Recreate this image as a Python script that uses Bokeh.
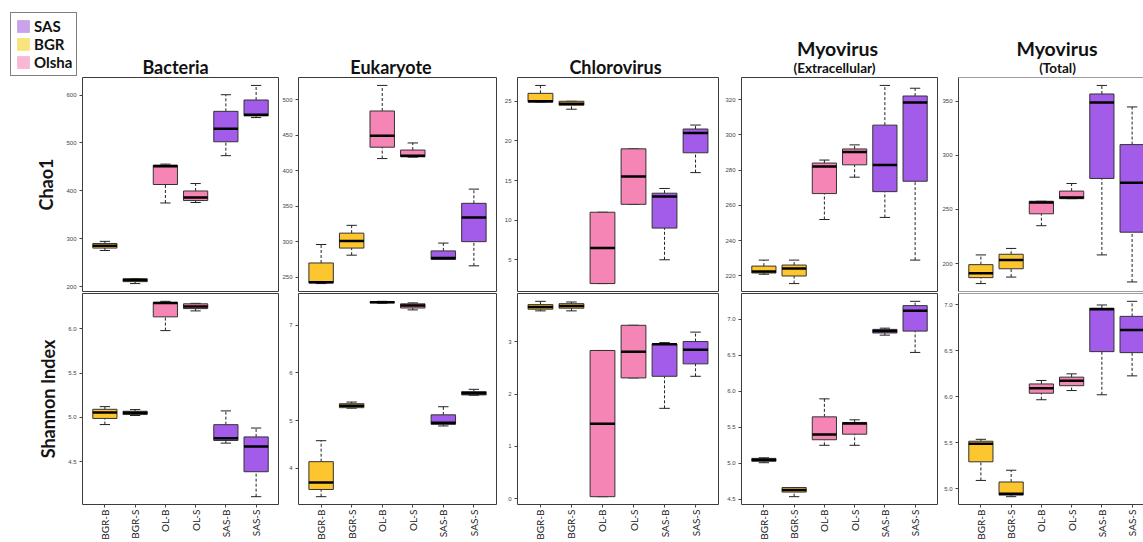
import math
from bokeh.plotting import figure
from bokeh.models import (ColumnDataSource, Range1d, FixedTicker, PrintfTickFormatter,
                          Legend, LegendItem, Span)
from bokeh.layouts import row, column
from bokeh.transform import dodge
from bokeh.embed import file_html
from bokeh.resources import INLINE
from bokeh.core.properties import value

# ---------------- data ----------------
categories = ["BGR-B", "BGR-S", "OL-B", "OL-S", "SAS-B", "SAS-S"]
groups = ["BGR", "BGR", "Olsha", "Olsha", "SAS", "SAS"]
group_colors = {"BGR": "#FDC62E", "Olsha": "#F585B5", "SAS": "#A35BE9"}
legend_groups = ["SAS", "BGR", "Olsha"]
legend_colors = ["#C9A3EA", "#FAE27C", "#F9B7D5"]

panel_titles = ["Bacteria", "Eukaryote", "Chlorovirus", "Myovirus", "Myovirus"]
panel_subtitles = ["(Extracellular)", "(Total)"]
row_labels = ["Chao1", "Shannon Index"]

# each tuple: (lower whisker, Q1, median, Q3, upper whisker)
bacteria_chao1 = [(276, 281, 285.6, 290.6, 295), (207, 211, 214.5, 217, 217),
                  (375, 413.5, 451.5, 454, 456), (376, 380, 386.5, 400, 415.5),
                  (473.6, 502.6, 529.5, 566, 600.6), (553, 556.5, 559, 589.6, 620)]
eukaryote_chao1 = [(241, 242, 243, 270, 296), (281, 291, 301, 312, 323),
                   (417, 433, 449, 484, 520), (419, 419.5, 421, 429, 439),
                   (275, 275, 277, 287, 298), (266, 300, 334, 354, 374)]
chlorovirus_chao1 = [(24.9, 24.9, 25, 26, 27), (24, 24.5, 24.7, 25, 25),
                     (2, 2, 6.5, 11, 11), (12, 12, 15.5, 19, 19),
                     (5, 9, 13, 13.4, 14), (16, 18.5, 21, 21.5, 22)]
myo_ext_chao1 = [(221, 221.7, 222.6, 225.6, 229), (215.7, 220, 224.2, 226.2, 229),
                 (252, 266.7, 282, 284, 285.7), (276, 283, 290.3, 292, 294.3),
                 (253.2, 267.8, 282.9, 305.5, 328), (229, 273.7, 318.3, 322, 326.4)]
myo_tot_chao1 = [(181.5, 187, 191, 199, 208), (187.5, 195.2, 203.4, 208.6, 214),
                 (235, 246, 256.5, 257.6, 257.6), (260, 260, 261, 267, 274),
                 (208, 278.7, 348.8, 356.8, 364.7), (183, 229, 274.7, 310, 344.8)]

bacteria_shannon = [(4.92, 4.989, 5.056, 5.092, 5.122), (5.022, 5.033, 5.052, 5.07, 5.089),
                    (5.978, 6.133, 6.29, 6.296, 6.308), (6.2, 6.226, 6.25, 6.28, 6.285),
                    (4.711, 4.741, 4.767, 4.919, 5.074), (4.108, 4.389, 4.674, 4.781, 4.881)]
eukaryote_shannon = [(3.404, 3.555, 3.699, 4.138, 4.578), (5.26, 5.27, 5.311, 5.353, 5.388),
                     (7.46, 7.47, 7.48, 7.49, 7.50), (7.32, 7.36, 7.41, 7.447, 7.467),
                     (4.887, 4.92, 4.955, 5.12, 5.29), (5.53, 5.538, 5.573, 5.607, 5.655)]
chlorovirus_shannon = [(3.585, 3.617, 3.66, 3.704, 3.767), (3.585, 3.636, 3.68, 3.722, 3.754),
                       (0.043, 0.043, 1.434, 2.83, 2.83), (2.307, 2.307, 2.806, 3.31, 3.31),
                       (1.727, 2.338, 2.95, 2.955, 2.98), (2.338, 2.575, 2.843, 3.0, 3.18)]
myo_ext_shannon = [(5.008, 5.027, 5.05, 5.068, 5.076), (4.536, 4.6, 4.63, 4.663, 4.663),
                   (5.25, 5.327, 5.4, 5.645, 5.895), (5.25, 5.404, 5.554, 5.567, 5.604),
                   (6.78, 6.81, 6.836, 6.86, 6.877), (6.54, 6.836, 7.119, 7.19, 7.25)]
myo_tot_shannon = [(5.089, 5.292, 5.488, 5.516, 5.537), (4.912, 4.929, 4.944, 5.072, 5.2),
                   (5.968, 6.039, 6.093, 6.14, 6.178), (6.068, 6.121, 6.175, 6.214, 6.25),
                   (6.022, 6.492, 6.954, 6.965, 7.0), (6.228, 6.481, 6.727, 6.876, 7.04)]

chao1_panels = [bacteria_chao1, eukaryote_chao1, chlorovirus_chao1, myo_ext_chao1, myo_tot_chao1]
shannon_panels = [bacteria_shannon, eukaryote_shannon, chlorovirus_shannon, myo_ext_shannon, myo_tot_shannon]

chao1_ticks = [[200, 300, 400, 500, 600], [250, 300, 350, 400, 450, 500], [5, 10, 15, 20, 25],
               [220, 240, 260, 280, 300, 320], [200, 250, 300, 350]]
shannon_ticks = [[4.5, 5.0, 5.5, 6.0], [4, 5, 6, 7], [0, 1, 2, 3],
                 [4.5, 5.0, 5.5, 6.0, 6.5, 7.0], [5.0, 5.5, 6.0, 6.5, 7.0]]
chao1_fmt = ["%d", "%d", "%d", "%d", "%d"]
shannon_fmt = ["%.1f", "%d", "%d", "%.1f", "%.1f"]

# ---------------- layout constants (page has no margin) ----------------
FRAME_W = [196, 198, 201, 196, 185]
BORDER_L = [82, 19, 20, 22, 20]
BORDER_R = [1, 1, 1, 1, 0]
X_START = 0.26
X_END = [6.74, 6.74, 6.74, 6.74, 0.26 + 6.48 * 185 / 196]
TOTAL_W = sum(FRAME_W) + sum(BORDER_L) + sum(BORDER_R)
HEADER_H = 77
TOP_H = 215
BOT_H = 250
FRAME_COLOR = "#3c3c3c"
FONT = "Lato"


def y_limits(stats):
    lo = min(s[0] for s in stats)
    hi = max(s[4] for s in stats)
    pad = 0.04 * (hi - lo)
    return lo - pad, hi + pad


def make_panel(stats, ticks, fmt, i, is_bottom, ylabel=None):
    lo, q1, med, q3, hi = (list(t) for t in zip(*stats))
    src = ColumnDataSource(dict(x=list(range(1, len(categories) + 1)), lo=lo, q1=q1, med=med,
                                q3=q3, hi=hi, color=[group_colors[g] for g in groups]))
    y0, y1 = y_limits(stats)
    p = figure(width=BORDER_L[i] + FRAME_W[i] + BORDER_R[i], height=BOT_H if is_bottom else TOP_H,
               x_range=Range1d(X_START, X_END[i]), y_range=Range1d(y0, y1),
               output_backend="svg", toolbar_location=None, tools="",
               x_axis_location="below" if is_bottom else None)
    p.min_border_left = BORDER_L[i]
    p.min_border_right = BORDER_R[i]
    p.min_border_top = 1 if is_bottom else 0
    p.min_border_bottom = 1
    p.grid.visible = False
    p.background_fill_color = "white"
    p.border_fill_color = "white"
    p.outline_line_color = FRAME_COLOR if i < 4 else None
    p.outline_line_width = 1

    # whiskers (dashed) and staples
    p.segment(x0="x", x1="x", y0="q3", y1="hi", source=src, line_color="#222222",
              line_width=1, line_dash="3 2")
    p.segment(x0="x", x1="x", y0="lo", y1="q1", source=src, line_color="#222222",
              line_width=1, line_dash="3 2")
    p.segment(x0=dodge("x", -0.17), x1=dodge("x", 0.17), y0="hi", y1="hi", source=src,
              line_color="#222222", line_width=1)
    p.segment(x0=dodge("x", -0.17), x1=dodge("x", 0.17), y0="lo", y1="lo", source=src,
              line_color="#222222", line_width=1)
    # boxes
    p.vbar(x="x", width=0.8, bottom="q1", top="q3", source=src, fill_color="color",
           line_color="#333333", line_width=1)
    # medians
    p.segment(x0=dodge("x", -0.4), x1=dodge("x", 0.4), y0="med", y1="med", source=src,
              line_color="black", line_width=2.5)

    ya = p.yaxis[0]
    ya.ticker = FixedTicker(ticks=ticks)
    ya.formatter = PrintfTickFormatter(format=fmt)
    ya.major_tick_out = 3
    ya.major_tick_in = 0
    ya.major_tick_line_color = "#444444"
    ya.major_label_text_font_size = "6px"
    ya.major_label_text_font = "Liberation Sans"
    ya.major_label_text_color = "#444444"
    ya.major_label_standoff = 3
    ya.axis_line_color = None if i < 4 else FRAME_COLOR
    if ylabel:
        ya.axis_label = ylabel
        ya.axis_label_text_font = FONT
        ya.axis_label_text_font_style = "bold"
        ya.axis_label_text_font_size = "18px"
        ya.axis_label_text_color = "#151515"
        ya.axis_label_standoff = 6

    if is_bottom:
        xa = p.xaxis[0]
        xa.ticker = FixedTicker(ticks=list(range(1, len(categories) + 1)))
        xa.major_label_overrides = {k + 1: c for k, c in enumerate(categories)}
        xa.major_label_orientation = math.pi / 2
        xa.major_label_text_font = FONT
        xa.major_label_text_font_size = "10px"
        xa.major_label_text_color = "#1a1a1a"
        xa.major_tick_out = 3
        xa.major_tick_in = 0
        xa.major_tick_line_color = "#444444"
        xa.major_label_standoff = 2
        xa.axis_line_color = None if i < 4 else FRAME_COLOR

    if i == 4:
        p.add_layout(Span(location=y1, dimension="width", line_color=FRAME_COLOR, line_width=1))
        if not is_bottom:
            p.add_layout(Span(location=y0, dimension="width", line_color=FRAME_COLOR, line_width=1))
    return p


# ---------------- header: titles + legend ----------------
header = figure(width=TOTAL_W, height=HEADER_H, x_range=Range1d(0, TOTAL_W),
                y_range=Range1d(0, HEADER_H), output_backend="svg", toolbar_location=None,
                tools="", x_axis_location=None, y_axis_location=None)
header.min_border_left = 0
header.min_border_right = 0
header.min_border_top = 0
header.min_border_bottom = 0
header.outline_line_color = None
header.grid.visible = False

title_x = [175, 390.5, 615, 837, 1056.5]
title_y = [11, 11, 11, 29, 29]
header.text(x=title_x[:3], y=title_y[:3], text=panel_titles[:3], text_font=value(FONT),
            text_font_style="bold", text_font_size="18px", text_align="center",
            text_baseline="middle", text_color="#111111")
header.text(x=title_x[3:], y=title_y[3:], text=panel_titles[3:], text_font=value(FONT),
            text_font_style="bold", text_font_size="19.5px", text_align="center",
            text_baseline="middle", text_color="#111111")
header.text(x=[834, 1057], y=[10, 10], text=panel_subtitles, text_font=value(FONT),
            text_font_style="bold", text_font_size="13.5px", text_align="center",
            text_baseline="middle", text_color="#111111")

nan = float("nan")
items = []
for g, c in zip(legend_groups, legend_colors):
    r = header.quad(left=[nan], right=[nan], top=[nan], bottom=[nan], fill_color=c,
                    line_color=None)
    items.append(LegendItem(label=g, renderers=[r]))
legend = Legend(items=items, location=(10, 1), margin=0, padding=4, spacing=0,
                glyph_width=16, glyph_height=16, label_height=18, label_standoff=3,
                label_text_font=FONT, label_text_font_style="bold", label_text_font_size="15px",
                label_text_color="#111111", border_line_color="black", border_line_width=1,
                background_fill_color="white", background_fill_alpha=1)
header.add_layout(legend)

# ---------------- panels ----------------
cols = []
for i in range(5):
    top = make_panel(chao1_panels[i], chao1_ticks[i], chao1_fmt[i], i, False,
                     row_labels[0] if i == 0 else None)
    bot = make_panel(shannon_panels[i], shannon_ticks[i], shannon_fmt[i], i, True,
                     row_labels[1] if i == 0 else None)
    cols.append(column(top, bot, spacing=0))

layout = column(header, row(*cols, spacing=0), spacing=0)

open("out.html", "w").write(file_html(layout, INLINE))
